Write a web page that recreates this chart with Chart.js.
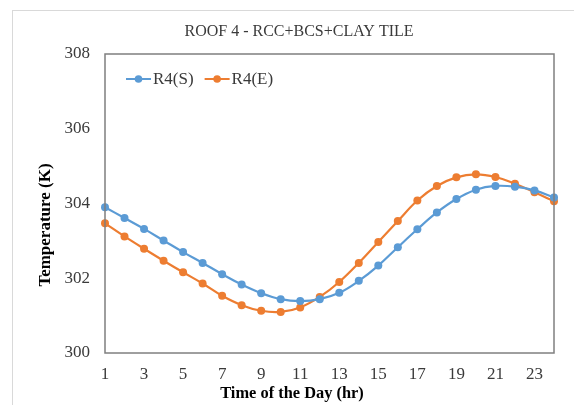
<!DOCTYPE html>
<html>
<head>
<meta charset="utf-8">
<script src="https://cdn.jsdelivr.net/npm/chart.js@4"></script>
<style>
	html, body { margin: 0; padding: 0; background: #fff; overflow: hidden; }
	#frame { position: absolute; left: 12px; top: 10px; width: 620px; height: 440px; border: 1px solid #d9d9d9; }
	#wrap { position: absolute; left: 0; top: 0; width: 574px; height: 405px; }
</style>
</head>
<body>
<div id="frame"></div>
<div id="wrap"><canvas id="chart" width="574" height="405"></canvas></div>
<script>
const hours = [1, 2, 3, 4, 5, 6, 7, 8, 9, 10, 11, 12, 13, 14, 15, 16, 17, 18, 19, 20, 21, 22, 23, 24];
const r4S = [303.90, 303.61, 303.32, 303.01, 302.70, 302.41, 302.11, 301.83, 301.60, 301.44, 301.39, 301.44,
	301.61, 301.93, 302.34, 302.83, 303.31, 303.76, 304.12, 304.37, 304.47, 304.45, 304.35, 304.16];
const r4E = [303.47, 303.12, 302.79, 302.47, 302.16, 301.86, 301.53, 301.28, 301.13, 301.10, 301.22, 301.50,
	301.90, 302.41, 302.97, 303.53, 304.08, 304.47, 304.70, 304.78, 304.71, 304.53, 304.30, 304.06];
const yTicks = [300, 302, 304, 306, 308];
const seriesNames = ['R4(S)', 'R4(E)'];
const chartTitle = 'ROOF 4 - RCC+BCS+CLAY TILE';
const xTitle = 'Time of the Day (hr)';
const yTitle = 'Temperature (K)';

const BLUE = '#5b9bd5';
const ORANGE = '#ed7d31';
const SERIF = "'Liberation Serif', 'Times New Roman', serif";

// Excel puts the legend inside the plot and the axis titles a bit off centre,
// so those are drawn here by hand, relative to the chart area
const extras = {
	id: 'extras',
	afterDraw(chart) {
		const a = chart.chartArea, ctx = chart.ctx;
		ctx.save();

		// plot frame
		ctx.strokeStyle = '#7f7f7f';
		ctx.lineWidth = 1.5;
		ctx.strokeRect(a.left, a.top, a.right - a.left, a.bottom - a.top);

		// legend
		ctx.font = '17px ' + SERIF;
		ctx.textBaseline = 'middle';
		ctx.textAlign = 'left';
		let x = a.left + 21;
		const y = a.top + 25;
		chart.data.datasets.forEach(ds => {
			ctx.strokeStyle = ds.borderColor;
			ctx.lineWidth = 2;
			ctx.beginPath(); ctx.moveTo(x, y); ctx.lineTo(x + 25, y); ctx.stroke();
			ctx.fillStyle = ds.borderColor;
			ctx.beginPath(); ctx.arc(x + 12.5, y, 3.8, 0, Math.PI * 2); ctx.fill();
			ctx.fillStyle = '#3a3a3a';
			ctx.fillText(ds.label, x + 27, y + 1);
			x += 27 + ctx.measureText(ds.label).width + 11;
		});

		// axis titles
		ctx.fillStyle = '#000';
		ctx.textAlign = 'center';
		ctx.font = 'bold 16.4px ' + SERIF;
		ctx.fillText(xTitle, a.left + 187, a.bottom + 41);
		ctx.translate(a.left - 59, a.top + 171);
		ctx.rotate(-Math.PI / 2);
		ctx.font = 'bold 17px ' + SERIF;
		ctx.fillText(yTitle, 0, 0);
		ctx.restore();
	}
};

const series = (label, data, color) => ({
	label: label,
	data: data,
	borderColor: color,
	backgroundColor: color,
	borderWidth: 2.2,
	pointRadius: 4,
	pointHoverRadius: 4,
	pointBorderWidth: 0,
	tension: 0.4
});

new Chart(document.getElementById('chart'), {
	type: 'line',
	data: {
		labels: hours,
		datasets: [series(seriesNames[0], r4S, BLUE), series(seriesNames[1], r4E, ORANGE)]
	},
	plugins: [extras],
	options: {
		responsive: false,
		animation: false,
		layout: { padding: { left: 44, right: 20, top: 22, bottom: 0 } },
		plugins: {
			title: {
				display: true,
				text: chartTitle,
				color: '#3a3a3a',
				font: { family: SERIF, size: 16, weight: 'normal' },
				padding: { top: 0, bottom: 12.8 }
			},
			legend: { display: false },
			tooltip: { enabled: false }
		},
		scales: {
			x: {
				type: 'category',
				offset: false,
				grid: { display: false, drawTicks: false },
				border: { display: false },
				ticks: {
					autoSkip: false,
					maxRotation: 0,
					padding: 11,
					color: '#3a3a3a',
					font: { family: SERIF, size: 17 },
					callback(v, i) { return hours[i] % 2 === 1 ? String(hours[i]) : ''; }
				},
				afterFit(scale) { scale.height = 52; }
			},
			y: {
				min: 300,
				max: 308,
				grid: { display: false, drawTicks: false },
				border: { display: false },
				afterBuildTicks(scale) { scale.ticks = yTicks.map(v => ({ value: v })); },
				ticks: {
					padding: 15,
					color: '#3a3a3a',
					font: { family: SERIF, size: 17 }
				},
				afterFit(scale) { scale.width = 61; }
			}
		}
	}
});
</script>
</body>
</html>
